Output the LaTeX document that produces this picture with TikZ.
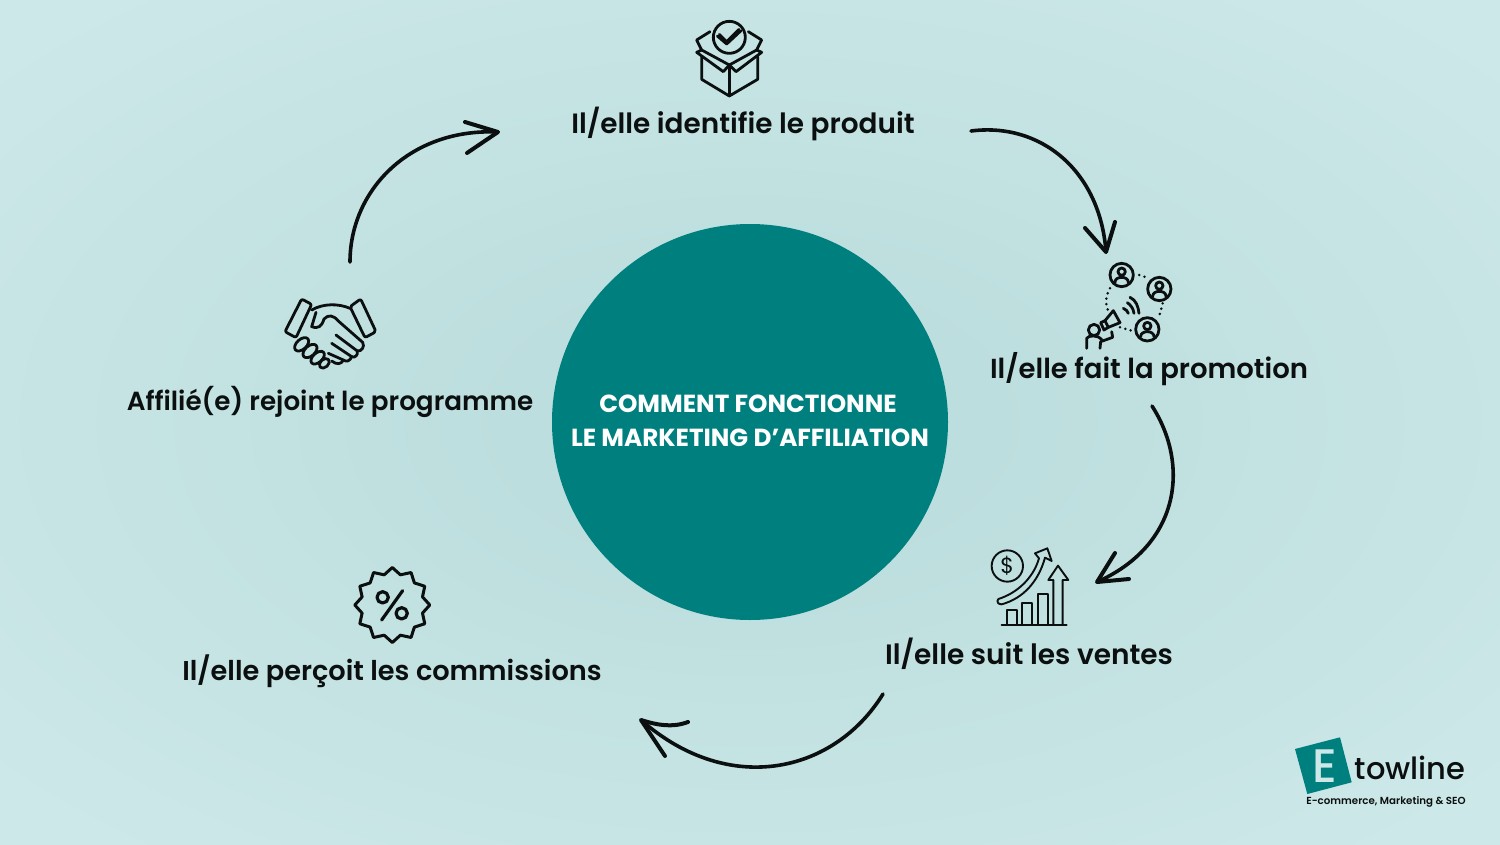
\documentclass[tikz,border=0pt]{standalone}
\usepackage{fontspec}
\setmainfont{Poppins}[BoldFont={Poppins SemiBold}]
\newfontfamily\logofont{Poppins Medium}
\newfontfamily\titlefont{Poppins Bold}
\usetikzlibrary{positioning,arrows.meta,shapes.geometric,calc}
\definecolor{bgdark}{HTML}{B8DBDB}
\definecolor{bglight}{HTML}{CDE8E8}
\definecolor{tealdisc}{HTML}{007F7F}
\definecolor{inkblack}{HTML}{0B0F0F}

\begin{document}
\begin{tikzpicture}[
        x=1pt, y=-1pt,
        steplabel/.style={font=\fontsize{#1}{30}\selectfont\bfseries, text=inkblack, inner sep=0pt},
        titleline/.style={font=\titlefont\fontsize{24.7}{28}\selectfont, text=white, inner sep=0pt},
        line/.style={line width=3.6pt, line cap=round, inkblack},
        barb/.style={line width=4pt, line cap=round, line join=round, inkblack},
        icon/.style={line width=2.8pt, line cap=round, line join=round, inkblack},
        thinicon/.style={line width=1.9pt, line cap=round, line join=round, inkblack},
        dots/.style={line width=2.8pt, line cap=round, dash pattern=on 0pt off 5.5pt},
        zoomed/.style={shift={(#1)}, x=.3333pt, y=-.3333pt}
    ]
        \useasboundingbox (0,0) rectangle (1500,844);
        \begin{scope}
            \clip (0,0) rectangle (1500,844);
            \shade[inner color=bgdark, outer color=bglight] (-250,-140) rectangle (1750,984);
        \end{scope}

        \node[circle, fill=tealdisc, minimum size=396pt, inner sep=0pt] (disc) at (750,422) {};
        \node[titleline] (title1) at (748,404) {COMMENT FONCTIONNE};
        \node[titleline] (title2) at (750,438) {LE MARKETING D’AFFILIATION};

        \node[steplabel=27.9] (produit) at (743,124) {Il/elle identifie le produit};
        \node[steplabel=27.5] (promotion) at (1149,369) {Il/elle fait la promotion};
        \node[steplabel=28] (ventes) at (1029,654) {Il/elle suit les ventes};
        \node[steplabel=27.2] (commissions) at (392,671) {Il/elle perçoit les commissions};
        \node[steplabel=26.2] (programme) at (330,402) {Affilié(e) rejoint le programme};

        \coordinate (a1) at (350,262);
        \coordinate (b1) at (498,132);
        \coordinate (a2) at (971,131);
        \coordinate (b2) at (1106,252);
        \coordinate (a3) at (1152,406);
        \coordinate (b3) at (1097,582);
        \coordinate (a4) at (883,694);
        \coordinate (b4) at (641,720);

        \draw[line] (a1) .. controls (350,190) and (410,128) .. (b1);
        \draw[barb] (465,122) -- (b1) -- (467,153);
        \draw[line] (a2) .. controls (1040,122) and (1100,170) .. (b2);
        \draw[barb] (1085,228) -- (b2) -- (1115,222);
        \draw[line] (a3) .. controls (1190,465) and (1180,545) .. (b3);
        \draw[barb] (1115,553) -- (b3) -- (1129,579);
        \draw[line] (a4) .. controls (835,772) and (730,798) .. (b4);
        \draw[barb] (688,722) .. controls (672,728) and (657,725) .. (b4) -- (665,756);

        \begin{scope}[zoomed={660,0}, icon]
            \draw (208,112) circle (48);
            \draw (178,103) -- (200,125) -- (237,88) (172,108) -- (200,132) -- (243,92);
            \draw (125,170) -- (125,238) -- (208,288) -- (293,238) -- (293,170);
            \draw (208,288) -- (208,195);
            \draw (125,150) -- (110,157) -- (190,215) -- (208,195) -- (228,215) -- (305,157) -- (290,150);
            \draw (150,95) -- (110,120) -- (125,150) -- (208,195) -- (290,150) -- (305,120) -- (265,95);
        \end{scope}

        \begin{scope}[zoomed={1070,250}, icon]
            \foreach \cx/\cy in {155/75, 268/117, 232/238} {
                \draw (\cx,\cy) circle (35);
                \draw (\cx,\cy-10) circle (11);
                \draw (\cx-20,\cy+22) .. controls (\cx-20,\cy+2) and (\cx+20,\cy+2) .. (\cx+20,\cy+22);
            }
            \draw[dots] (208,75) -- (228,82);
            \draw[dots] (120,115) .. controls (105,140) and (105,165) .. (118,190);
            \draw[dots] (278,160) -- (268,198);
            \draw[dots] (150,232) -- (188,243);
            \draw (180,142) .. controls (198,150) and (205,170) .. (207,190);
            \draw (172,158) .. controls (182,165) and (190,175) .. (192,190);
            \draw (160,175) .. controls (168,178) and (173,184) .. (175,190);
            \draw (130,182) -- (150,218) -- (115,232) -- (105,212) -- cycle;
            \draw (105,212) -- (92,218) -- (102,240) -- (115,232);
            \draw (72,240) circle (17);
            \draw (50,295) -- (50,265) .. controls (55,255) and (85,255) .. (95,268);
            \draw (90,295) -- (92,275) -- (128,262) -- (125,245);
        \end{scope}

        \begin{scope}[zoomed={970,535}, thinicon]
            \draw (112,93) circle (47);
            \draw (85,192) .. controls (140,175) and (190,130) .. (207,70) -- (195,55) -- (232,40) -- (245,78) -- (225,68)
                .. controls (205,140) and (160,190) .. (95,208) .. controls (82,208) and (80,198) .. (85,192);
            \draw (112,270) -- (112,225) -- (140,225) -- (140,270);
            \draw (157,270) -- (157,205) -- (187,205) -- (187,270);
            \draw (203,270) -- (203,178) -- (233,178) -- (233,270);
            \draw (95,270) -- (290,270);
            \draw (250,270) -- (250,135) -- (235,135) -- (264,92) -- (295,135) -- (278,135) -- (278,270);
        \end{scope}
        \node[font=\fontsize{22}{22}\selectfont, text=inkblack, inner sep=0pt] (dollar) at (1007.3,566) {\$};

        \node[star, star points=12, star point ratio=1.2, minimum size=75pt, inner sep=0pt, draw=inkblack, line width=3pt, line join=round] (badge) at (392.3,605) {};
        \begin{scope}[zoomed={340,560}, icon, line width=3.2pt]
            \draw (128,112) circle (17);
            \draw (185,160) circle (17);
            \draw (188,92) -- (125,180);
        \end{scope}

        \begin{scope}[zoomed={270,285}, icon]
            \draw[rounded corners=2pt] (95,42) -- (125,58) -- (78,158) -- (45,140) -- cycle;
            \draw[rounded corners=2pt] (240,65) -- (272,42) -- (318,140) -- (285,158) -- cycle;
            \draw (125,75) .. controls (160,55) and (205,55) .. (240,70);
            \draw (138,82) -- (125,125) .. controls (145,132) and (155,125) .. (162,102) .. controls (175,88) and (190,90) .. (205,108) -- (278,172)
                .. controls (285,185) and (275,200) .. (262,198) -- (198,150);
            \draw (262,198) .. controls (265,210) and (255,220) .. (245,215) -- (185,175);
            \draw (245,215) .. controls (240,228) and (230,232) .. (220,225) -- (175,205);
            \draw (220,225) .. controls (215,238) and (200,240) .. (185,228);
            \draw[rotate around={42:(95,178)}] (95,178) ellipse (25 and 15);
            \draw[rotate around={42:(120,198)}] (120,198) ellipse (25 and 15);
            \draw[rotate around={42:(143,218)}] (143,218) ellipse (24 and 14);
            \draw[rotate around={42:(163,235)}] (163,235) ellipse (17 and 12);
        \end{scope}

        \fill[tealdisc] (1295,749) -- (1340,737.3) -- (1351.7,782.3) -- (1307.3,794) -- cycle;
        \node[font=\logofont\fontsize{47}{47}\selectfont, text=bglight, inner sep=0pt] (logoe) at (1325,766) {E};
        \node[font=\logofont\fontsize{30.5}{32}\selectfont, text=inkblack, inner sep=0pt] (logoname) at (1410,768) {towline};
        \node[font=\fontsize{10.25}{12}\selectfont\bfseries, text=inkblack, inner sep=0pt] (logotag) at (1386,802) {E-commerce, Marketing \& SEO};
    \end{tikzpicture}
\end{document}
